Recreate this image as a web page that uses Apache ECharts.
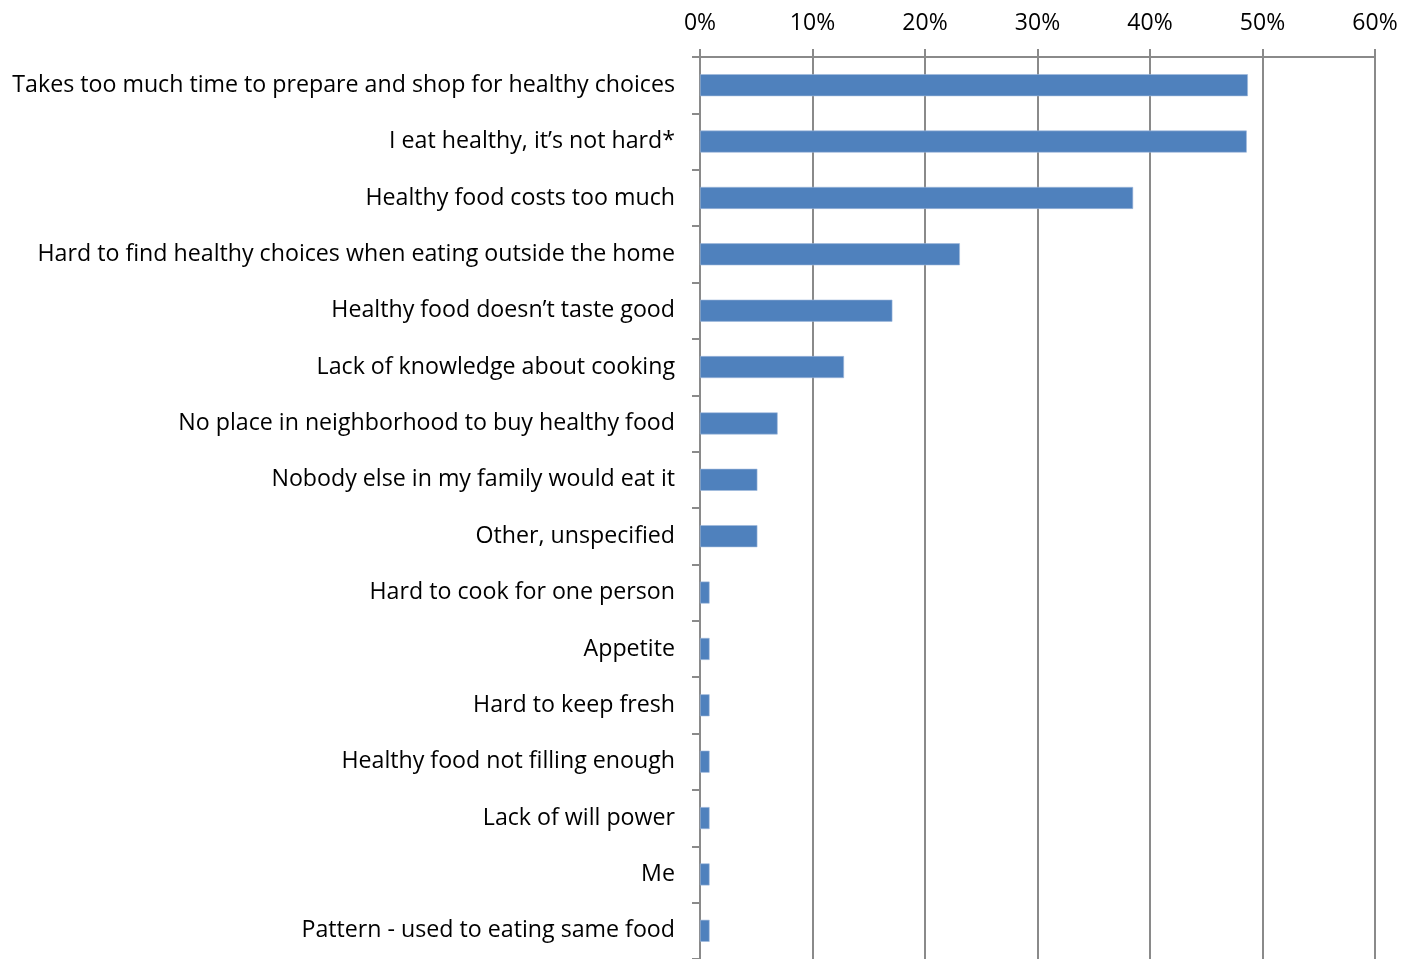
<!DOCTYPE html>
<html>
<head>
<meta charset="utf-8">
<script src="https://cdn.jsdelivr.net/npm/echarts@6/dist/echarts.min.js"></script>
<style>
  html, body { margin: 0; padding: 0; background: #ffffff; }
  #chart { width: 1418px; height: 959px; }
</style>
</head>
<body>
<div id="chart"></div>
<script>
// Reasons people give for finding it hard to eat healthy
const categories = [
  'Takes too much time to prepare and shop for healthy choices',
  'I eat healthy, it\u2019s not hard*',
  'Healthy food costs too much',
  'Hard to find healthy choices when eating outside the home',
  'Healthy food doesn\u2019t taste good',
  'Lack of knowledge about cooking',
  'No place in neighborhood to buy healthy food',
  'Nobody else in my family would eat it',
  'Other, unspecified',
  'Hard to cook for one person',
  'Appetite',
  'Hard to keep fresh',
  'Healthy food not filling enough',
  'Lack of will power',
  'Me',
  'Pattern - used to eating same food'
];

// Share of respondents (%)
const shares = [48.7, 48.6, 38.5, 23.1, 17.1, 12.8, 6.9, 5.1, 5.1, 0.85, 0.85, 0.85, 0.85, 0.85, 0.85, 0.85];

// Value axis range and tick step (%)
const axisMin = 0;
const axisMax = 60;
const axisStep = 10;

const FONT = '"Open Sans", Lato, sans-serif';
const GRAY = '#8a8a8a';

const chart = echarts.init(document.getElementById('chart'), null, { renderer: 'canvas' });

chart.setOption({
  animation: false,
  backgroundColor: '#ffffff',
  grid: { left: 700, top: 57, width: 675, height: 904, containLabel: false },
  xAxis: {
    type: 'value',
    position: 'top',
    min: axisMin,
    max: axisMax,
    interval: axisStep,
    axisLine: { show: true, lineStyle: { color: GRAY, width: 2 } },
    axisTick: { show: true, length: 8, lineStyle: { color: GRAY, width: 2 } },
    splitLine: { show: true, lineStyle: { color: GRAY, width: 2 } },
    axisLabel: {
      margin: 22,
      formatter: v => v + '%',
      color: '#000000',
      fontFamily: FONT,
      fontSize: 23
    }
  },
  yAxis: {
    type: 'category',
    inverse: true,
    data: categories,
    axisLine: { show: true, lineStyle: { color: GRAY, width: 2 } },
    axisTick: { show: true, length: 8, alignWithLabel: false, lineStyle: { color: GRAY, width: 2 } },
    axisLabel: {
      margin: 25,
      color: '#000000',
      fontFamily: FONT,
      fontSize: 23.2,
      lineHeight: 23,
      padding: [6, 0, 0, 0],
      interval: 0
    }
  },
  series: [{
    type: 'bar',
    data: shares,
    barWidth: 22,
    itemStyle: { color: '#4f81bd', borderColor: '#9fb9dc', borderWidth: 0.6 }
  }]
});
</script>
</body>
</html>
